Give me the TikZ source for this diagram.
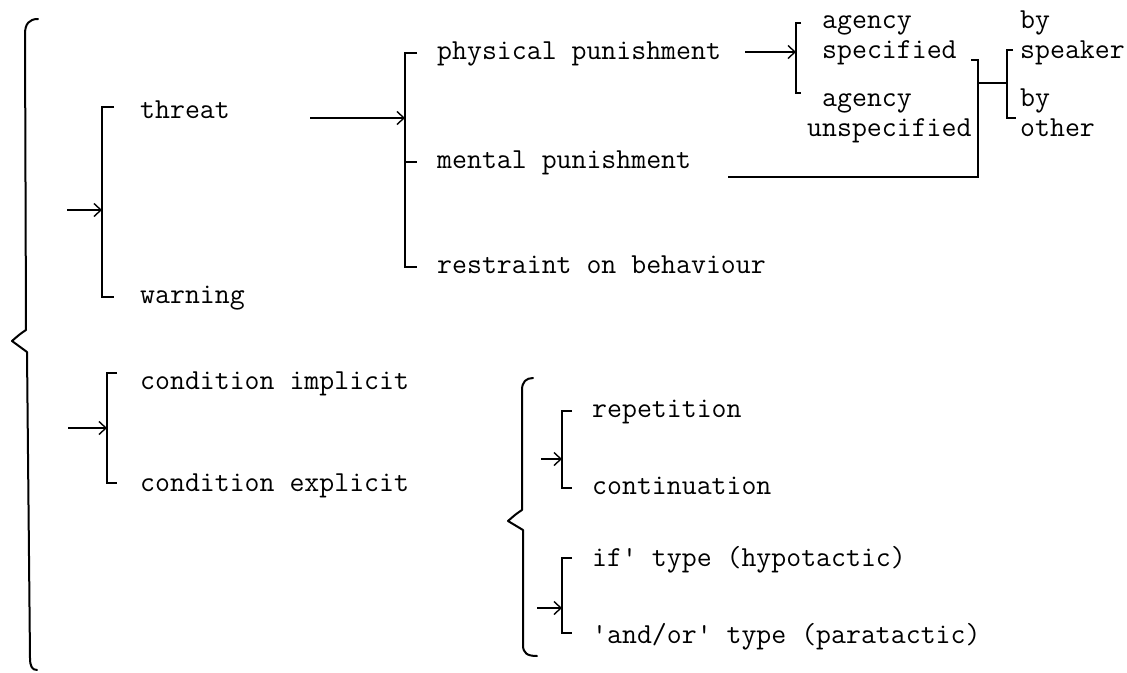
\documentclass[tikz,border=0pt]{standalone}
\usetikzlibrary{arrows.meta}
\begin{document}
\begin{tikzpicture}[x=1pt,y=-1pt,
  lbl/.style={anchor=base west, inner sep=0pt, font=\fontsize{29}{30}\selectfont\ttfamily},
  ln/.style={line width=1.7pt, line cap=butt, line join=miter},
  brc/.style={line width=2pt, line cap=round, line join=round},
  arr/.style={ln, -{Straight Barb[length=7pt,width=13pt,line width=1.4pt]}}]
\useasboundingbox (0,0) rectangle (1127,672);

% labels
\node[lbl] (threat)  at (140,118) {threat};
\node[lbl] (warning) at (140,303) {warning};
\node[lbl] (cimp)    at (140,389) {condition implicit};
\node[lbl] (cexp)    at (140,491) {condition explicit};
\node[lbl] (phys)    at (437,59)  {physical punishment};
\node[lbl] (ment)    at (437,168) {mental punishment};
\node[lbl] (restr)   at (437,273) {restraint on behaviour};
\node[lbl] (ag1)     at (822,28)  {agency};
\node[lbl] (spec)    at (822,58)  {specified};
\node[lbl] (ag2)     at (822,106) {agency};
\node[lbl] (unspec)  at (807,136) {unspecified};
\node[lbl] (by1)     at (1020,28) {by};
\node[lbl] (spk)     at (1020,58) {speaker};
\node[lbl] (by2)     at (1020,106) {by};
\node[lbl] (oth)     at (1020,136) {other};
\node[lbl] (rep)     at (592,417) {repetition};
\node[lbl] (cont)    at (592,494) {continuation};
\node[lbl] (iftype)  at (592,566) {if\textquotesingle{} type (hypotactic)};
\node[lbl] (andor)   at (592,643) {\textquotesingle and/or\textquotesingle{} type (paratactic)};

% outer brace
\draw[brc] (38,19) .. controls (29,19) and (25,24) .. (25,34) -- (26,330)
  .. controls (20,334) .. (12,341) .. controls (20,346) .. (27,352)
  -- (30,658) .. controls (30,666) and (32,670) .. (37,670);

% threat / warning
\coordinate (t1) at (102,107); \coordinate (t2) at (102,297);
\coordinate (t1m) at (102,210); \coordinate (t1in) at (67,210);
\draw[ln] (t1) ++(12,0) -- (t1) -- (t2) -- ++(12,0);
\draw[arr] (t1in) -- (t1m);

% condition implicit / explicit
\coordinate (c1) at (107,373); \coordinate (c2) at (107,483);
\coordinate (c1m) at (107,428); \coordinate (c1in) at (68,428);
\draw[ln] (c1) ++(10,0) -- (c1) -- (c2) -- ++(10,0);
\draw[arr] (c1in) -- (c1m);

% kinds of punishment
\coordinate (p1) at (405,53); \coordinate (p2) at (405,267);
\coordinate (pmid) at (405,162); \coordinate (p1m) at (405,118);
\coordinate (p1in) at (310,118);
\draw[ln] (p1) ++(12,0) -- (p1) -- (p2) -- ++(12,0);
\draw[ln] (pmid) -- ++(12,0);
\draw[arr] (p1in) -- (p1m);

% agency
\coordinate (g1) at (796,23); \coordinate (g2) at (796,93);
\coordinate (g1m) at (796,52); \coordinate (g1in) at (745,52);
\draw[line width=2.4pt] (g1) ++(5,0) -- (g1) -- (g2) -- ++(5,0);
\draw[arr] (g1in) -- (g1m);

% joining line to speaker / other
\coordinate (j1) at (971,60); \coordinate (j2) at (978,60);
\coordinate (j3) at (978,177); \coordinate (j4) at (728,177);
\coordinate (jm) at (978,83);
\draw[ln] (j1) -- (j2) -- (j3) -- (j4);
\coordinate (s1) at (1007,50); \coordinate (s2) at (1007,118);
\coordinate (sm) at (1007,83);
\draw[ln] (jm) -- (sm);
\draw[ln] (s1) ++(6,0) -- (s1) -- (s2) -- ++(9,0);

% inner brace
\draw[brc] (533,378) .. controls (526,378) and (522,382) .. (522,390) -- (522,510)
  .. controls (516,514) .. (508,521) .. controls (516,525) .. (523,530)
  -- (523,645) .. controls (523,653) and (527,656) .. (537,656);

% repetition / continuation
\coordinate (r1) at (562,411); \coordinate (r2) at (562,488);
\coordinate (r1m) at (562,459); \coordinate (r1in) at (541,459);
\draw[ln] (r1) ++(10,0) -- (r1) -- (r2) -- ++(10,0);
\draw[arr] (r1in) -- (r1m);

% hypotactic / paratactic
\coordinate (h1) at (562,558); \coordinate (h2) at (562,633);
\coordinate (h1m) at (562,608); \coordinate (h1in) at (537,608);
\draw[ln] (h1) ++(10,0) -- (h1) -- (h2) -- ++(10,0);
\draw[arr] (h1in) -- (h1m);
\end{tikzpicture}
\end{document}
